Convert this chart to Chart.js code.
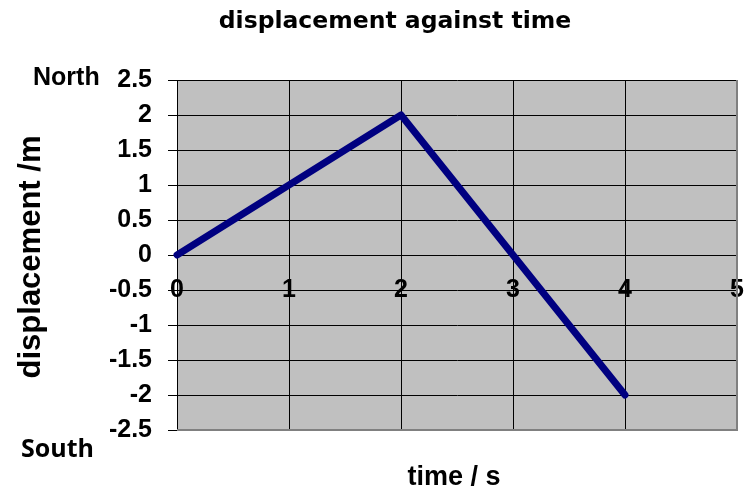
<!DOCTYPE html>
<html>
<head>
<meta charset="utf-8">
<script src="https://cdn.jsdelivr.net/npm/chart.js@4/dist/chart.umd.min.js"></script>
<style>
  html, body { margin: 0; padding: 0; background: #fff; overflow: hidden; }
  #wrap { width: 745px; height: 488px; position: relative; }
  canvas { display: block; }
</style>
</head>
<body>
<div id="wrap"><canvas id="grafico"></canvas></div>
<script>
// Datos del gráfico: tiempo (s) y desplazamiento (m)
const TIEMPOS = [0, 2, 4];
const DESPLAZAMIENTOS = [0, 2, -2];

// Ejes
const X_MIN = 0, X_MAX = 5, X_PASO = 1;
const Y_MIN = -2.5, Y_MAX = 2.5, Y_PASO = 0.5;

// Textos
const TITULO = 'displacement against time';
const TITULO_X = 'time / s';
const TITULO_Y = 'displacement /m';
const ETIQUETA_NORTE = 'North';
const ETIQUETA_SUR = 'South';

const ARIAL = '"Liberation Sans", Arial, sans-serif';

// Plugin para el fondo gris, el borde y los textos sueltos
const decoracion = {
    id: 'decoracion',
    beforeDraw(chart) {
        const { ctx, chartArea: a } = chart;
        ctx.save();
        ctx.fillStyle = '#c0c0c0';
        ctx.fillRect(a.left, a.top, a.right - a.left, a.bottom - a.top);
        ctx.restore();
    },
    beforeDatasetsDraw(chart) {
        const { ctx, chartArea: a } = chart;
        ctx.save();
        ctx.strokeStyle = '#808080';
        ctx.lineWidth = 2;
        ctx.beginPath();
        ctx.moveTo(a.right, a.top);
        ctx.lineTo(a.right, a.bottom);
        ctx.lineTo(a.left, a.bottom);
        ctx.stroke();
        ctx.restore();
    },
    afterDraw(chart) {
        const { ctx, chartArea: a } = chart;
        ctx.save();
        ctx.fillStyle = '#000';

        // título principal
        ctx.font = 'bold 23.5px "DejaVu Sans", sans-serif';
        ctx.textAlign = 'center';
        ctx.textBaseline = 'alphabetic';
        ctx.fillText(TITULO, 395, 28);

        // título del eje x
        ctx.font = 'bold 27px ' + ARIAL;
        ctx.fillText(TITULO_X, (a.left + a.right) / 2 - 3, 485);

        // North / South
        ctx.textAlign = 'left';
        ctx.font = 'bold 25px ' + ARIAL;
        ctx.fillText(ETIQUETA_NORTE, 33, 85);
        ctx.font = 'bold 25px "Open Sans", sans-serif';
        ctx.fillText(ETIQUETA_SUR, 21, 457);

        // título del eje y (rotado)
        ctx.translate(40, (a.top + a.bottom) / 2 + 2);
        ctx.rotate(-Math.PI / 2);
        ctx.textAlign = 'center';
        ctx.font = 'bold 31px ' + ARIAL;
        ctx.fillText(TITULO_Y, 0, 0);
        ctx.restore();
    }
};

const ctx = document.getElementById('grafico').getContext('2d');

new Chart(ctx, {
    type: 'scatter',
    data: {
        datasets: [{
            data: TIEMPOS.map((t, i) => ({ x: t, y: DESPLAZAMIENTOS[i] })),
            showLine: true,
            borderColor: '#000080',
            borderWidth: 7,
            borderCapStyle: 'round',
            borderJoinStyle: 'round',
            pointRadius: 0,
            pointHoverRadius: 0,
            clip: false
        }]
    },
    options: {
        responsive: true,
        maintainAspectRatio: false,
        animation: false,
        layout: { padding: { top: 80, left: 0, right: 8, bottom: 58 } },
        plugins: {
            legend: { display: false },
            title: { display: false },
            tooltip: { enabled: false }
        },
        scales: {
            x: {
                type: 'linear',
                position: { y: 0 },
                min: X_MIN,
                max: X_MAX,
                // que la etiqueta "5" no reserve espacio a la derecha
                afterFit(scale) { scale.paddingLeft = 0; scale.paddingRight = 0; },
                ticks: {
                    stepSize: X_PASO,
                    color: '#000',
                    font: { family: ARIAL, size: 25, weight: 'bold' },
                    padding: 20,
                    maxRotation: 0
                },
                grid: { color: '#000', lineWidth: 1, drawTicks: false },
                border: { display: true, color: '#000', width: 1 }
            },
            y: {
                type: 'linear',
                min: Y_MIN,
                max: Y_MAX,
                afterFit(scale) { scale.width = 177; },
                ticks: {
                    stepSize: Y_PASO,
                    color: '#000',
                    font: { family: ARIAL, size: 25, weight: 'bold' },
                    padding: 16,
                    // sin ceros de relleno: 2 en vez de 2.0
                    callback: (v) => String(v)
                },
                grid: { color: '#000', lineWidth: 1, tickLength: 9 },
                border: { display: true, color: '#000', width: 1 }
            }
        }
    },
    plugins: [decoracion]
});
</script>
</body>
</html>
